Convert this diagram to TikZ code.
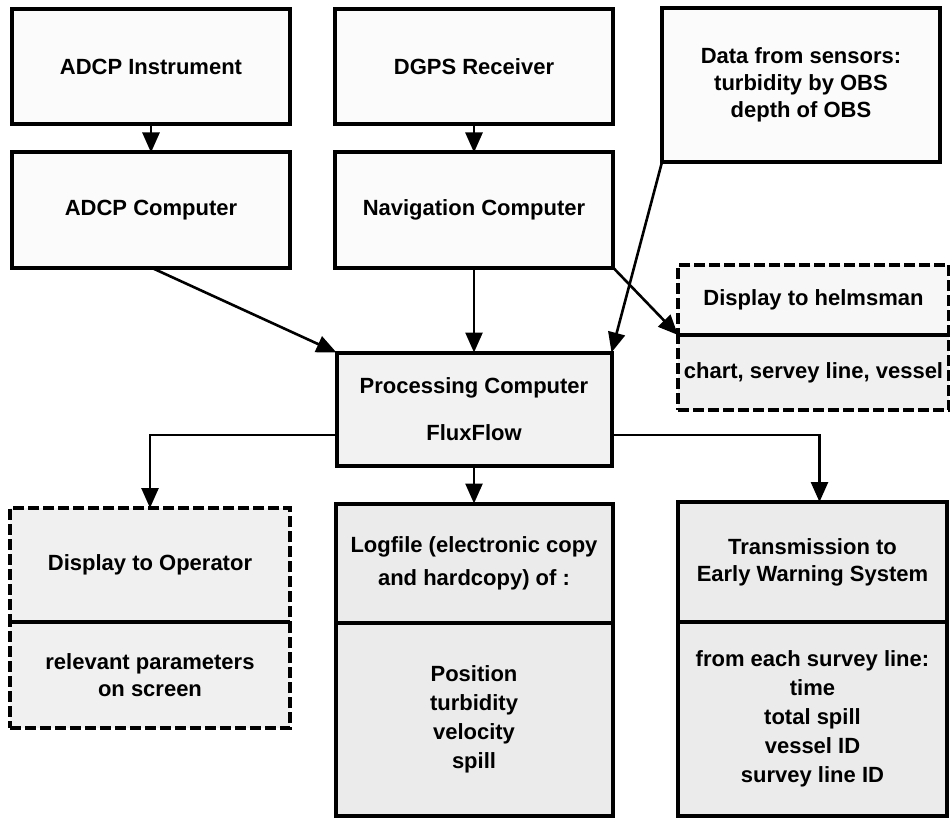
\documentclass[tikz,border=0pt]{standalone}
\usepackage{fontspec}
\setmainfont{Liberation Sans}
\usetikzlibrary{positioning,arrows.meta,calc}
\tikzstyle{unit} = [
rectangle,
line width=4pt,
outer sep=0pt,
draw=black,
fill=gray!3,
minimum width=278pt,
minimum height=115pt,
align=center
]
\tikzstyle{hub} = [
unit,
fill=gray!10,
minimum width=275pt,
minimum height=113pt
]
\tikzstyle{outpart} = [
rectangle,
line width=4pt,
outer sep=0pt,
inner sep=0pt,
draw=black,
fill=gray!16,
align=center
]
\tikzstyle{screen} = [
outpart,
dash pattern=on 11pt off 4pt,
fill=gray!12
]
\tikzstyle{listing} = [
font=\bfseries\fontsize{22}{29}\selectfont
]
\tikzstyle{feed} = [
-{Triangle[length=20pt,width=17pt]},
line width=2.6pt
]
\tikzstyle{divider} = [
line width=4pt
]

\begin{document}
\begin{tikzpicture}[
	x=1pt,
	y=-1pt,
	font=\bfseries\fontsize{22}{27}\selectfont,
	node distance=28pt
	]
	\useasboundingbox (0,0) rectangle (950,821);
	
	\node[unit] (instr) at (151,67) {ADCP Instrument};
	\node[unit,right=45pt of instr] (dgps) {DGPS Receiver};
	\node[unit,minimum height=154pt,anchor=north west] (sensors) at (662,8) {Data from sensors:\\turbidity by OBS\\depth of OBS};
	
	\node[unit,below=of instr] (adcpc) {ADCP Computer};
	\node[unit,below=of dgps] (navc) {Navigation Computer};
	
	\node[hub,below=85pt of navc] (proc) {Processing Computer\\[20pt]FluxFlow};
	
	% wheelhouse display
	\node[screen,fill=gray!6,minimum width=271pt,minimum height=70pt,anchor=north west] (helm) at (678,265) {Display to helmsman};
	\node[screen,minimum width=271pt,minimum height=75pt,below=0pt of helm] (helmlist) {chart, servey line, vessel};
	
	% outputs
	\node[screen,minimum width=280pt,minimum height=114pt,anchor=north west] (oper) at (10,508) {Display to Operator};
	\node[screen,minimum width=280pt,minimum height=106pt,below=0pt of oper] (operlist) {relevant parameters\\on screen};
	
	\node[outpart,minimum width=277pt,minimum height=119pt,below=38pt of proc] (logf) {Logfile (electronic copy\\[6pt]and hardcopy) of :};
	\node[outpart,listing,minimum width=277pt,minimum height=193pt,below=0pt of logf] (logflist) {Position\\turbidity\\velocity\\spill};
	
	\node[outpart,minimum width=269pt,minimum height=120pt,anchor=north west] (trans) at (678,502) {Transmission to\\Early Warning System};
	\node[outpart,listing,minimum width=269pt,minimum height=194pt,below=0pt of trans] (translist) {from each survey line:\\time\\total spill\\vessel ID\\survey line ID};
	
	\draw[divider] (helm.south west) -- (helm.south east);
	\draw[divider] (oper.south west) -- (oper.south east);
	
	\draw[feed] (instr) -- (adcpc);
	\draw[feed] (dgps) -- (navc);
	\draw[feed] (adcpc.south) -- (proc.north west);
	\draw[feed] (navc) -- (proc);
	\draw[feed] (sensors.south west) -- (proc.north east);
	\draw[feed] (navc.south east) -- (helm.south west);
	\draw[feed] ([yshift=-26pt]proc.west) -| (oper.north);
	\draw[feed] (proc) -- (logf);
	\draw[feed] ([yshift=-26pt]proc.east) -| ([xshift=7pt]trans.north);
\end{tikzpicture}
\end{document}
